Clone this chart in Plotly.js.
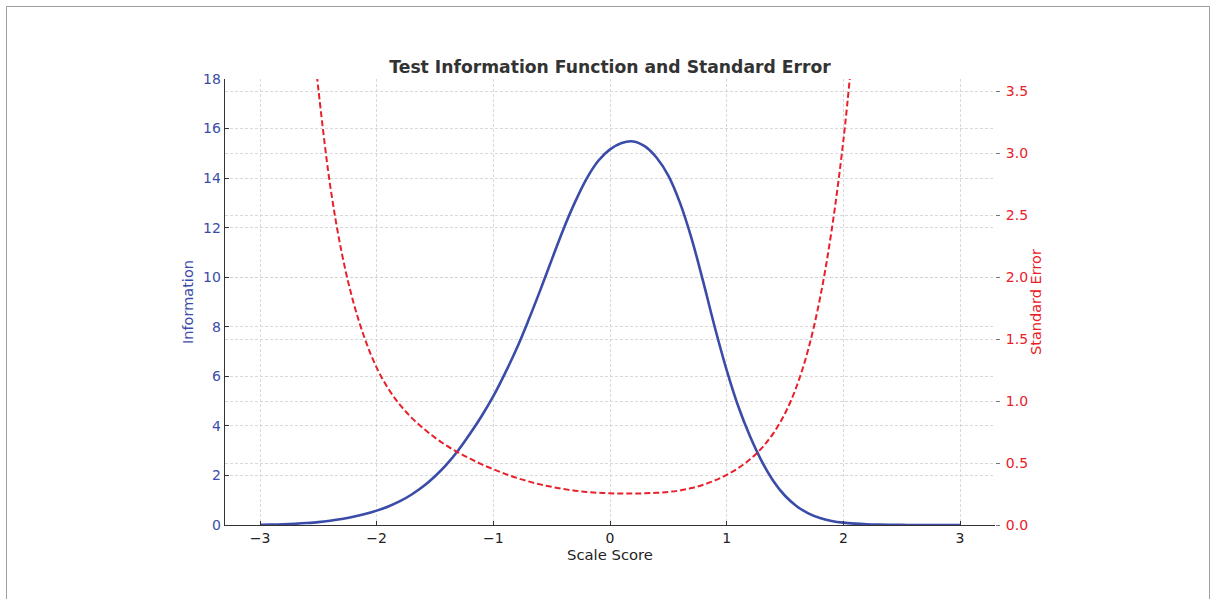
<!DOCTYPE html>
<html>
<head>
<meta charset="utf-8">
<script src="https://cdn.plot.ly/plotly-3.0.1.min.js"></script>
<style>
  html, body { margin: 0; padding: 0; background: #fff; overflow: hidden; }
  #frame { position: absolute; left: 6px; top: 6px; width: 1204px; height: 640px; border: 1.5px solid #a0a0a0; box-sizing: border-box; }
  #chart { position: absolute; left: 0; top: 0; width: 1217px; height: 599px; }
</style>
</head>
<body>
<div id="frame"></div>
<div id="chart"></div>
<script>
// Test information curve
const thetaInfo = [-3.0,-2.9,-2.8,-2.7,-2.6,-2.5,-2.4,-2.3,-2.2,-2.1,-2.0,-1.9,-1.8,-1.7,-1.6,-1.5,-1.4,-1.3,-1.2,-1.1,-1.0,-0.9,-0.8,-0.7,-0.6,-0.5,-0.4,-0.3,-0.2,-0.1,0.0,0.1,0.2,0.3,0.4,0.5,0.6,0.7,0.8,0.9,1.0,1.1,1.2,1.3,1.4,1.5,1.6,1.7,1.8,1.9,2.0,2.1,2.2,2.3,2.4,2.5,2.6,2.7,2.8,2.9,3.0];
const information = [0.005,0.015,0.03,0.05,0.078,0.115,0.17,0.24,0.33,0.44,0.58,0.75,0.96,1.23,1.56,1.97,2.45,3.02,3.68,4.4,5.2,6.12,7.12,8.25,9.45,10.7,11.93,13.03,13.98,14.7,15.16,15.42,15.48,15.28,14.82,14.1,13.0,11.55,9.8,7.95,6.25,4.78,3.58,2.58,1.78,1.18,0.76,0.47,0.28,0.165,0.095,0.055,0.03,0.016,0.008,0.004,0.002,0.001,0.0,0.0,0.0];

// Standard error curve
const thetaSE = [-2.52,-2.5,-2.4,-2.3,-2.2,-2.1,-2.0,-1.9,-1.8,-1.7,-1.6,-1.5,-1.4,-1.3,-1.2,-1.1,-1.0,-0.9,-0.8,-0.7,-0.6,-0.5,-0.4,-0.3,-0.2,-0.1,0.0,0.1,0.2,0.3,0.4,0.5,0.6,0.7,0.8,0.9,1.0,1.1,1.2,1.3,1.4,1.5,1.6,1.7,1.8,1.9,2.0,2.07];
const standardError = [3.7,3.52,2.75,2.2,1.8,1.5,1.27,1.1,0.97,0.865,0.78,0.705,0.64,0.585,0.535,0.49,0.45,0.413,0.38,0.352,0.328,0.308,0.291,0.277,0.267,0.26,0.256,0.254,0.254,0.256,0.26,0.267,0.279,0.298,0.325,0.36,0.405,0.46,0.53,0.62,0.74,0.9,1.12,1.42,1.83,2.38,3.1,3.75];

const xTicks = [-3,-2,-1,0,1,2,3];
const infoTicks = [0,2,4,6,8,10,12,14,16,18];
const seTicks = [0.0,0.5,1.0,1.5,2.0,2.5,3.0,3.5];

const blue = '#3a4ca8';
const red = '#e8202a';
const font = 'DejaVu Sans, sans-serif';

const traces = [
  {
    x: thetaInfo, y: information, type: 'scatter', mode: 'lines',
    line: {color: blue, width: 2.6, shape: 'spline', smoothing: 1},
    name: 'Information', yaxis: 'y', hoverinfo: 'skip'
  },
  {
    x: thetaSE, y: standardError, type: 'scatter', mode: 'lines',
    line: {color: red, width: 2, dash: '6px,3px', shape: 'spline', smoothing: 1},
    name: 'Standard Error', yaxis: 'y2', hoverinfo: 'skip'
  }
];

const gridStyle = {gridcolor: '#d0d0d0', gridwidth: 0.8, griddash: '3px,2px'};

const layout = {
  width: 1217, height: 599,
  paper_bgcolor: 'rgba(0,0,0,0)', plot_bgcolor: 'rgba(0,0,0,0)',
  margin: {l: 225, r: 222, t: 79, b: 74, pad: 0},
  showlegend: false,
  font: {family: font, size: 14, color: '#222'},
  title: {
    text: '<b>Test Information Function and Standard Error</b>',
    font: {family: font, size: 17.2, color: '#333'},
    x: 0.5, xref: 'paper', xanchor: 'center', y: 1, yref: 'paper', yanchor: 'bottom', pad: {b: 6}
  },
  xaxis: Object.assign({
    range: [-3.3, 3.3], tickvals: xTicks, ticktext: xTicks.map(v => v < 0 ? '\u2212' + Math.abs(v) : String(v)),
    showgrid: true, zeroline: false,
    showline: true, linecolor: '#333', linewidth: 1.3,
    ticks: 'inside', ticklen: 4, tickcolor: '#333',
    tickfont: {family: font, size: 14, color: '#222'},
    title: {text: 'Scale Score', font: {family: font, size: 14.8, color: '#222'}, standoff: 4}
  }, gridStyle),
  yaxis: Object.assign({
    range: [0, 18], tickvals: infoTicks,
    showgrid: true, zeroline: false,
    showline: true, linecolor: '#333', linewidth: 1.3,
    ticks: 'inside', ticklen: 4, tickcolor: '#333',
    tickfont: {family: font, size: 14, color: blue},
    title: {text: 'Information', font: {family: font, size: 14.5, color: blue}, standoff: 6}
  }, gridStyle),
  yaxis2: Object.assign({
    range: [0, 3.6], tickvals: seTicks, tickformat: '.1f',
    overlaying: 'y', side: 'right',
    showgrid: true, zeroline: false, showline: false,
    ticks: 'outside', ticklen: 4, tickcolor: '#777',
    ticklabelstandoff: 3,
    tickfont: {family: font, size: 14, color: red},
    title: {text: 'Standard Error', font: {family: font, size: 14.5, color: red}, standoff: 2}
  }, gridStyle)
};

Plotly.newPlot('chart', traces, layout, {displayModeBar: false, staticPlot: true});
</script>
</body>
</html>
